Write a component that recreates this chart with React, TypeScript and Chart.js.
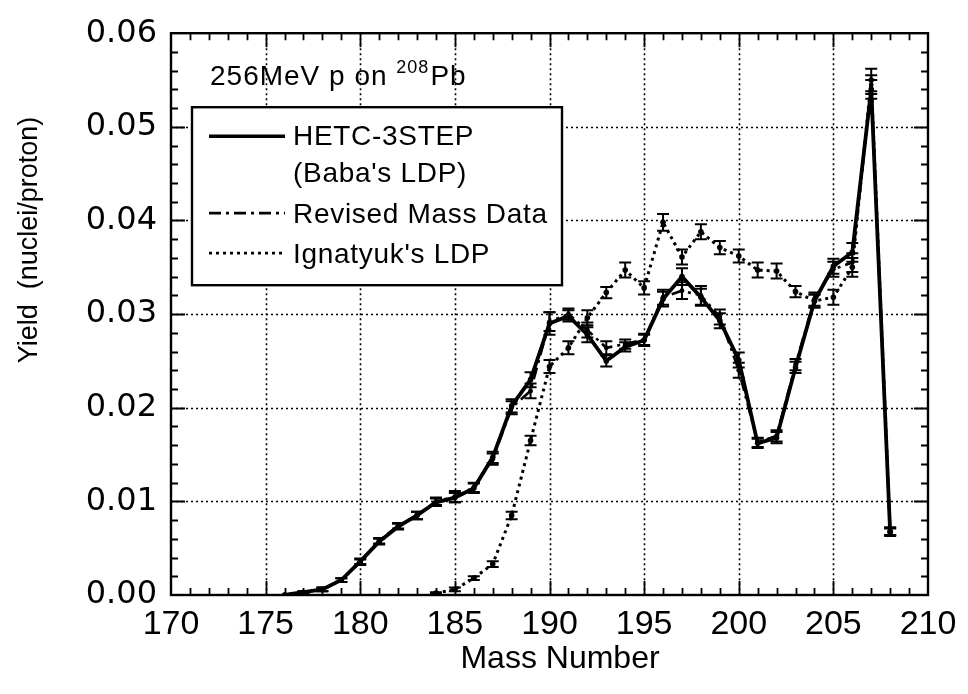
import React, { useEffect, useRef } from 'react';
import { Chart, registerables } from 'chart.js';

Chart.register(...registerables);

// ---- Data ----
const massNumbers = [
  176, 177, 178, 179, 180, 181, 182, 183, 184, 185, 186, 187, 188, 189, 190, 191, 192,
  193, 194, 195, 196, 197, 198, 199, 200, 201, 202, 203, 204, 205, 206, 207, 208,
];
const hetcYield = [
  0.0000, 0.0003, 0.0006, 0.0016, 0.0036, 0.0057, 0.0073, 0.0085, 0.0099, 0.0104, 0.0114,
  0.0147, 0.0202, 0.0230, 0.0290, 0.0298, 0.0278, 0.0250, 0.0265, 0.0272, 0.0316, 0.0340,
  0.0318, 0.0293, 0.0251, 0.0162, 0.0168, 0.0243, 0.0314, 0.0351, 0.0366, 0.0540, 0.0067,
];
const hetcErr = [
  0.0000, 0.0001, 0.0002, 0.0002, 0.0003, 0.0003, 0.0003, 0.0004, 0.0004, 0.0005, 0.0005,
  0.0006, 0.0007, 0.0008, 0.0012, 0.0006, 0.0008, 0.0006, 0.0005, 0.0006, 0.0008, 0.0009,
  0.0009, 0.0008, 0.0008, 0.0005, 0.0006, 0.0006, 0.0007, 0.0008, 0.0010, 0.0010, 0.0004,
];
const revisedYield = [
  0.0000, 0.0003, 0.0006, 0.0016, 0.0035, 0.0058, 0.0074, 0.0085, 0.0100, 0.0105, 0.0115,
  0.0145, 0.0200, 0.0218, 0.0292, 0.0300, 0.0283, 0.0264, 0.0268, 0.0273, 0.0318, 0.0325,
  0.0320, 0.0297, 0.0240, 0.0163, 0.0170, 0.0246, 0.0316, 0.0348, 0.0355, 0.0545, 0.0068,
];
const revisedErr = [
  0.0000, 0.0001, 0.0002, 0.0002, 0.0003, 0.0003, 0.0003, 0.0004, 0.0004, 0.0006, 0.0005,
  0.0006, 0.0007, 0.0008, 0.0010, 0.0006, 0.0008, 0.0007, 0.0005, 0.0006, 0.0008, 0.0009,
  0.0010, 0.0008, 0.0008, 0.0005, 0.0006, 0.0006, 0.0007, 0.0008, 0.0010, 0.0010, 0.0004,
];
const ignatyukMass = [
  184, 185, 186, 187, 188, 189, 190, 191, 192, 193, 194, 195, 196, 197, 198, 199, 200,
  201, 202, 203, 204, 205, 206, 207, 208,
];
const ignatyukYield = [
  0.0002, 0.0006, 0.0018, 0.0033, 0.0085, 0.0165, 0.0244, 0.0264, 0.0296, 0.0323, 0.0347,
  0.0328, 0.0398, 0.0361, 0.0388, 0.0371, 0.0362, 0.0347, 0.0346, 0.0324, 0.0314, 0.0318,
  0.0350, 0.0550, 0.0068,
];
const ignatyukErr = [
  0.0001, 0.0002, 0.0002, 0.0003, 0.0004, 0.0005, 0.0007, 0.0007, 0.0008, 0.0006, 0.0008,
  0.0007, 0.0009, 0.0008, 0.0008, 0.0007, 0.0007, 0.0008, 0.0008, 0.0006, 0.0007, 0.0008,
  0.0010, 0.0012, 0.0004,
];

const seriesLabels = ['HETC-3STEP', 'Revised Mass Data', "Ignatyuk's LDP"];
const legendSubLabel = "(Baba's LDP)";
const annotationMain = '256MeV p on ';
const annotationSup = '208';
const annotationTail = 'Pb';
const xAxisTitle = 'Mass Number';
const yAxisTitle = 'Yield  (nuclei/proton)';

const xRange = { min: 170, max: 210, major: 5, minor: 1 };
const yRange = { min: 0, max: 0.06, major: 0.01, minor: 0.002 };

const SANS = "'Liberation Sans', Arial, sans-serif";
const WIDE = "'DejaVu Sans', sans-serif";

const dashRevised = [12, 5, 3, 5];
const dashIgnatyuk = [3, 4];

const framePlugin = {
  id: 'frameAndDecor',
  beforeDatasetsDraw(chart: any) {
    const { ctx, chartArea: a, scales } = chart;
    const x = scales.x;
    const y = scales.y;
    ctx.save();
    // dotted grid at major ticks
    ctx.strokeStyle = '#000';
    ctx.lineWidth = 1.6;
    ctx.setLineDash([2, 3]);
    for (let v = xRange.min + xRange.major; v < xRange.max - 1e-9; v += xRange.major) {
      const px = Math.round(x.getPixelForValue(v)) + 0.5;
      ctx.beginPath();
      ctx.moveTo(px, a.top);
      ctx.lineTo(px, a.bottom);
      ctx.stroke();
    }
    for (let k = 1; k < Math.round((yRange.max - yRange.min) / yRange.major); k++) {
      const py = Math.round(y.getPixelForValue(yRange.min + k * yRange.major)) + 0.5;
      ctx.beginPath();
      ctx.moveTo(a.left, py);
      ctx.lineTo(a.right, py);
      ctx.stroke();
    }
    ctx.setLineDash([]);
    // inward ticks on all four sides
    ctx.lineWidth = 1.8;
    const nx = Math.round((xRange.max - xRange.min) / xRange.minor);
    for (let k = 1; k < nx; k++) {
      const v = xRange.min + k * xRange.minor;
      const px = Math.round(x.getPixelForValue(v)) + 0.5;
      const len = k % Math.round(xRange.major / xRange.minor) === 0 ? 14 : 7;
      ctx.beginPath();
      ctx.moveTo(px, a.bottom);
      ctx.lineTo(px, a.bottom - len);
      ctx.moveTo(px, a.top);
      ctx.lineTo(px, a.top + len);
      ctx.stroke();
    }
    const ny = Math.round((yRange.max - yRange.min) / yRange.minor);
    for (let k = 1; k < ny; k++) {
      const v = yRange.min + k * yRange.minor;
      const py = Math.round(y.getPixelForValue(v)) + 0.5;
      const len = k % Math.round(yRange.major / yRange.minor) === 0 ? 14 : 7;
      ctx.beginPath();
      ctx.moveTo(a.left, py);
      ctx.lineTo(a.left + len, py);
      ctx.moveTo(a.right, py);
      ctx.lineTo(a.right - len, py);
      ctx.stroke();
    }
    // frame
    ctx.lineWidth = 2.4;
    ctx.strokeRect(a.left, a.top, a.right - a.left, a.bottom - a.top);
    ctx.restore();
  },
  afterDatasetsDraw(chart: any) {
    const { ctx, chartArea: a, scales } = chart;
    const x = scales.x;
    const y = scales.y;
    ctx.save();
    // error bars
    ctx.strokeStyle = '#000';
    ctx.lineWidth = 2;
    ctx.setLineDash([]);
    chart.data.datasets.forEach((ds: any) => {
      const errs: number[] = ds.errors || [];
      ds.data.forEach((p: any, i: number) => {
        const e = errs[i];
        if (!e) return;
        const px = x.getPixelForValue(p.x);
        const top = y.getPixelForValue(p.y + e);
        const bot = y.getPixelForValue(p.y - e);
        ctx.beginPath();
        ctx.moveTo(px, top);
        ctx.lineTo(px, bot);
        ctx.moveTo(px - 6, top);
        ctx.lineTo(px + 6, top);
        ctx.moveTo(px - 6, bot);
        ctx.lineTo(px + 6, bot);
        ctx.stroke();
      });
    });

    // annotation text
    ctx.fillStyle = '#000';
    ctx.textBaseline = 'alphabetic';
    ctx.textAlign = 'left';
    ctx.letterSpacing = '1px';
    ctx.font = `28px ${SANS}`;
    const ax = a.left + 39;
    const ay = a.top + 52;
    ctx.fillText(annotationMain, ax, ay);
    let w = ctx.measureText(annotationMain).width;
    ctx.font = `18px ${SANS}`;
    ctx.fillText(annotationSup, ax + w, ay - 12);
    w += ctx.measureText(annotationSup).width + 1;
    ctx.font = `28px ${SANS}`;
    ctx.fillText(annotationTail, ax + w, ay);

    // legend box
    const bx = a.left + 21;
    const by = a.top + 74;
    const bw = 370;
    const bh = 178;
    ctx.fillStyle = '#fff';
    ctx.fillRect(bx, by, bw, bh);
    ctx.strokeStyle = '#000';
    ctx.lineWidth = 2.4;
    ctx.strokeRect(bx, by, bw, bh);

    const lx0 = bx + 17;
    const lx1 = bx + 93;
    const tx = bx + 101;
    const rows = [
      { ly: by + 29, ty: by + 38, dash: [] as number[], width: 3.4, text: seriesLabels[0] },
      { ly: by + 106, ty: by + 116, dash: dashRevised, width: 2.8, text: seriesLabels[1] },
      { ly: by + 146, ty: by + 156, dash: dashIgnatyuk, width: 2.8, text: seriesLabels[2] },
    ];
    ctx.fillStyle = '#000';
    ctx.font = `28px ${SANS}`;
    ctx.letterSpacing = '0.7px';
    rows.forEach((r) => {
      ctx.lineWidth = r.width;
      ctx.setLineDash(r.dash);
      ctx.beginPath();
      ctx.moveTo(lx0, r.ly);
      ctx.lineTo(lx1, r.ly);
      ctx.stroke();
      ctx.fillText(r.text, tx, r.ty);
    });
    ctx.setLineDash([]);
    ctx.fillText(legendSubLabel, tx, by + 75);

    // axis titles
    ctx.letterSpacing = '0px';
    ctx.font = `32px ${SANS}`;
    ctx.textAlign = 'center';
    ctx.fillText(xAxisTitle, 560, 668);
    ctx.save();
    ctx.translate(37, 240);
    ctx.rotate(-Math.PI / 2);
    ctx.font = `27px ${SANS}`;
    ctx.textAlign = 'center';
    ctx.textBaseline = 'alphabetic';
    ctx.fillText(yAxisTitle, 0, 0);
    ctx.restore();

    ctx.restore();
  },
};

function toPoints(xs: number[], ys: number[]) {
  return xs.map((v, i) => ({ x: v, y: ys[i] }));
}

export default function App() {
  const canvasRef = useRef<HTMLCanvasElement | null>(null);

  useEffect(() => {
    if (!canvasRef.current) return;
    const chart = new Chart(canvasRef.current, {
      type: 'line',
      data: {
        datasets: [
          {
            label: seriesLabels[0],
            data: toPoints(massNumbers, hetcYield),
            errors: hetcErr,
            borderColor: '#000',
            backgroundColor: '#000',
            borderWidth: 3.8,
            pointRadius: 2.8,
            pointBorderWidth: 0,
            tension: 0,
          } as any,
          {
            label: seriesLabels[1],
            data: toPoints(massNumbers, revisedYield),
            errors: revisedErr,
            borderColor: '#000',
            backgroundColor: '#000',
            borderWidth: 2.6,
            borderDash: dashRevised,
            pointRadius: 2.4,
            pointBorderWidth: 0,
            tension: 0,
          } as any,
          {
            label: seriesLabels[2],
            data: toPoints(ignatyukMass, ignatyukYield),
            errors: ignatyukErr,
            borderColor: '#000',
            backgroundColor: '#000',
            borderWidth: 3,
            borderDash: dashIgnatyuk,
            pointRadius: 2.8,
            pointBorderWidth: 0,
            tension: 0,
          } as any,
        ],
      },
      options: {
        animation: false,
        responsive: true,
        maintainAspectRatio: false,
        layout: { padding: { top: 23, right: 40, left: 0, bottom: 0 } },
        plugins: {
          legend: { display: false },
          tooltip: { enabled: false },
          title: { display: false },
        },
        scales: {
          x: {
            type: 'linear',
            min: xRange.min,
            max: xRange.max,
            grid: { display: false, drawTicks: false, tickLength: 0 },
            border: { display: false },
            ticks: {
              stepSize: xRange.major,
              color: '#000',
              font: { family: SANS, size: 34 },
              padding: 9,
              maxRotation: 0,
              autoSkip: false,
              callback: (v: any) => String(v),
            },
            afterFit: (s: any) => {
              s.height = 99;
            },
          },
          y: {
            type: 'linear',
            min: yRange.min,
            max: yRange.max,
            grid: { display: false, drawTicks: false, tickLength: 0 },
            border: { display: false },
            ticks: {
              stepSize: yRange.major,
              color: '#000',
              font: { family: WIDE, size: 32 },
              padding: 14,
              autoSkip: false,
              callback: (v: any) => Number(v).toFixed(2),
            },
            afterFit: (s: any) => {
              s.width = 171;
            },
          },
        },
      } as any,
      plugins: [framePlugin],
    });
    return () => chart.destroy();
  }, []);

  return (
    <div
      style={{
        position: 'fixed',
        left: 0,
        top: 0,
        width: 968,
        height: 694,
        background: '#fff',
      }}
    >
      <canvas ref={canvasRef} />
    </div>
  );
}
